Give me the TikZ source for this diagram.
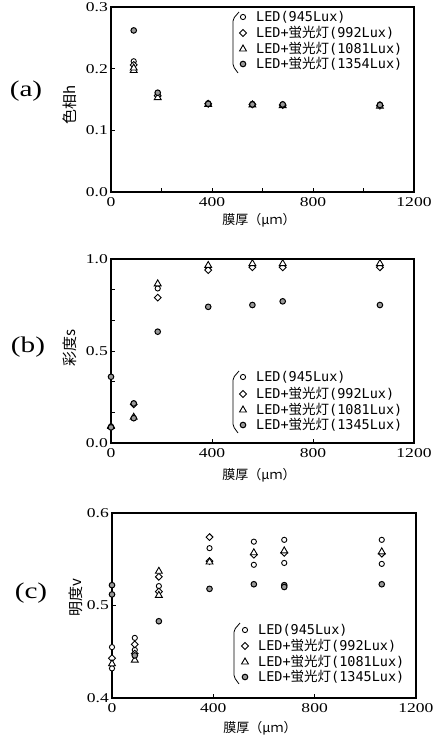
\documentclass[tikz,border=0pt]{standalone}
\usepackage{fontspec}
\setmainfont{Liberation Serif}
\newfontfamily\jp{Noto Sans CJK JP}
\newfontfamily\lmono{DejaVu Sans Mono}
\usetikzlibrary{shapes.geometric}
\newcommand{\fl}{{\jp 蛍光灯}}
\newcommand{\sx}[1]{\scalebox{1.3}[1]{#1}}

\begin{document}
\begin{tikzpicture}[x=1pt,y=-1pt,
    frame/.style={line width=1.9pt},
    tk/.style={line width=0.8pt},
    ticklab/.style={font=\fontsize{13.5}{14}\selectfont,inner sep=0pt},
    ttl/.style={font=\jp\fontsize{13}{14}\selectfont},
    ytl/.style={font=\jp\fontsize{15}{16}\selectfont,rotate=90},
    lab/.style={font=\fontsize{22.5}{24}\selectfont},
    leg/.style={font=\lmono\fontsize{13.5}{14}\selectfont,anchor=west,inner sep=0pt},
    brk/.style={line width=0.8pt,rounded corners=2pt},
    mo/.style={circle,draw,fill=white,inner sep=0pt,minimum size=5.2pt,line width=0.9pt},
    md/.style={diamond,draw,fill=white,inner sep=0pt,minimum size=7.2pt,line width=0.9pt},
    mt/.style={regular polygon,regular polygon sides=3,draw,fill=white,inner sep=0pt,minimum size=8pt,line width=0.9pt},
    mg/.style={circle,draw,fill=gray!80,inner sep=0pt,minimum size=5.6pt,line width=1pt}]

    \useasboundingbox (0,0) rectangle (434,740);

    % (a)
    \node[lab] (pa) at (26,91) {\sx{(a)}};
    \node[ytl] (ya) at (70,105) {色相h};
    \node[ttl] (xa) at (259,220) {膜厚（μｍ）};
    \begin{scope}[shift={(111,192)},x=0.2525pt,y=616.7pt]
        \draw[frame] (0,0) rectangle (1200,0.3);
        \foreach \t in {200,400,...,1000} \draw[tk] (\t,0) -- ([yshift=4pt]\t,0);
        \foreach \v in {0.1,0.2} \draw[tk] (0,\v) -- ([xshift=4pt]0,\v);
        \foreach \v in {0.0,0.1,0.2,0.3} \node[ticklab,left=3pt] at (0,\v) {\sx{\v}};
        \foreach \t in {0,400,800,1200} \node[ticklab,below=5pt] at (\t,0) {\sx{\t}};

        \foreach \x/\y in {90/0.212,185/0.158,385/0.144,560/0.143,680/0.142,1065/0.142}
            \node[mo] at (\x,\y) {};
        \foreach \x/\y in {90/0.206,185/0.156,385/0.143,560/0.142,680/0.141,1065/0.140}
            \node[md] at (\x,\y) {};
        \foreach \x/\y in {90/0.197,90/0.201,185/0.153,385/0.142,560/0.141,680/0.140,1065/0.139}
            \node[mt] at (\x,\y) {};
        \foreach \x/\y in {90/0.262,185/0.161,385/0.143,560/0.142,680/0.142,1065/0.141}
            \node[mg] at (\x,\y) {};
    \end{scope}
    \draw[brk] (239,12) -- (233,19) -- (233,66) -- (238,73);
    \node[mo] at (243,17) {};
    \node[md] at (243,33) {};
    \node[mt] at (243,49) {};
    \node[mg] at (243,64) {};
    \node[leg] (la1) at (256,17) {LED(945Lux)};
    \node[leg] (la2) at (256,33) {LED+\fl(992Lux)};
    \node[leg] (la3) at (256,49) {LED+\fl(1081Lux)};
    \node[leg] (la4) at (256,64) {LED+\fl(1354Lux)};

    % (b)
    \node[lab] (pb) at (28,347) {\sx{(b)}};
    \node[ytl] (yb) at (70,348) {彩度s};
    \node[ttl] (xb) at (259,475) {膜厚（μｍ）};
    \begin{scope}[shift={(111,443)},x=0.2525pt,y=184pt]
        \draw[frame] (0,0) rectangle (1200,1);
        \foreach \t in {400,800} \draw[tk] (\t,0) -- ([yshift=4pt]\t,0);
        \foreach \v in {1,...,5} \draw[tk] (0,\v/6) -- ([xshift=4pt]0,\v/6);
        \foreach \v in {0.0,0.5,1.0} \node[ticklab,left=3pt] at (0,\v) {\sx{\v}};
        \foreach \t in {0,400,800,1200} \node[ticklab,below=5pt] at (\t,0) {\sx{\t}};

        \foreach \x/\y in {0/0.09,90/0.215,185/0.84,385/0.945,560/0.96,680/0.96,1065/0.96}
            \node[mo] at (\x,\y) {};
        \foreach \x/\y in {0/0.085,90/0.21,185/0.79,385/0.94,560/0.955,680/0.955,1065/0.955}
            \node[md] at (\x,\y) {};
        \foreach \x/\y in {0/0.09,90/0.14,185/0.865,385/0.965,560/0.975,680/0.975,1065/0.975}
            \node[mt] at (\x,\y) {};
        \foreach \x/\y in {0/0.36,0/0.085,90/0.215,90/0.135,185/0.605,385/0.74,560/0.75,680/0.77,1065/0.75}
            \node[mg] at (\x,\y) {};
    \end{scope}
    \draw[brk] (239,371) -- (233,378) -- (233,426) -- (238,433);
    \node[mo] at (243,377) {};
    \node[md] at (243,394) {};
    \node[mt] at (243,410) {};
    \node[mg] at (243,425) {};
    \node[leg] (lb1) at (256,377) {LED(945Lux)};
    \node[leg] (lb2) at (256,394) {LED+\fl(992Lux)};
    \node[leg] (lb3) at (256,410) {LED+\fl(1081Lux)};
    \node[leg] (lb4) at (256,425) {LED+\fl(1345Lux)};

    % (c)
    \node[lab] (pc) at (31,593) {\sx{(c)}};
    \node[ytl] (yc) at (76,598) {明度v};
    \node[ttl] (xc) at (260,728) {膜厚（μｍ）};
    \begin{scope}[shift={(112,1068)},x=0.2533pt,y=925pt]
        \draw[frame] (0,0.4) rectangle (1200,0.6);
        \foreach \t in {400,800} \draw[tk] (\t,0.4) -- ([yshift=4pt]\t,0.4);
        \draw[tk] (0,0.5) -- ([xshift=4pt]0,0.5);
        \foreach \v in {0.4,0.5,0.6} \node[ticklab,left=3pt] at (0,\v) {\sx{\v}};
        \foreach \t in {0,400,800,1200} \node[ticklab,below=5pt] at (\t,0.4) {\sx{\t}};

        \foreach \x/\y in {0/0.455,0/0.432,90/0.465,90/0.452,185/0.521,385/0.562,560/0.569,560/0.544,680/0.571,680/0.546,1065/0.571,1065/0.545}
            \node[mo] at (\x,\y) {};
        \foreach \x/\y in {0/0.443,90/0.458,90/0.448,185/0.531,185/0.515,385/0.574,385/0.548,560/0.555,680/0.557,1065/0.556}
            \node[md] at (\x,\y) {};
        \foreach \x/\y in {0/0.437,90/0.441,185/0.537,185/0.511,385/0.547,560/0.557,680/0.559,1065/0.558}
            \node[mt] at (\x,\y) {};
        \foreach \x/\y in {0/0.522,0/0.512,90/0.446,185/0.483,385/0.518,560/0.523,680/0.522,680/0.520,1065/0.523}
            \node[mg] at (\x,\y) {};
    \end{scope}
    \draw[brk] (240,623) -- (234,630) -- (234,677) -- (239,684);
    \node[mo] at (245,630) {};
    \node[md] at (245,646) {};
    \node[mt] at (245,662) {};
    \node[mg] at (245,677) {};
    \node[leg] (lc1) at (258,630) {LED(945Lux)};
    \node[leg] (lc2) at (258,646) {LED+\fl(992Lux)};
    \node[leg] (lc3) at (258,662) {LED+\fl(1081Lux)};
    \node[leg] (lc4) at (258,677) {LED+\fl(1345Lux)};

\end{tikzpicture}
\end{document}
